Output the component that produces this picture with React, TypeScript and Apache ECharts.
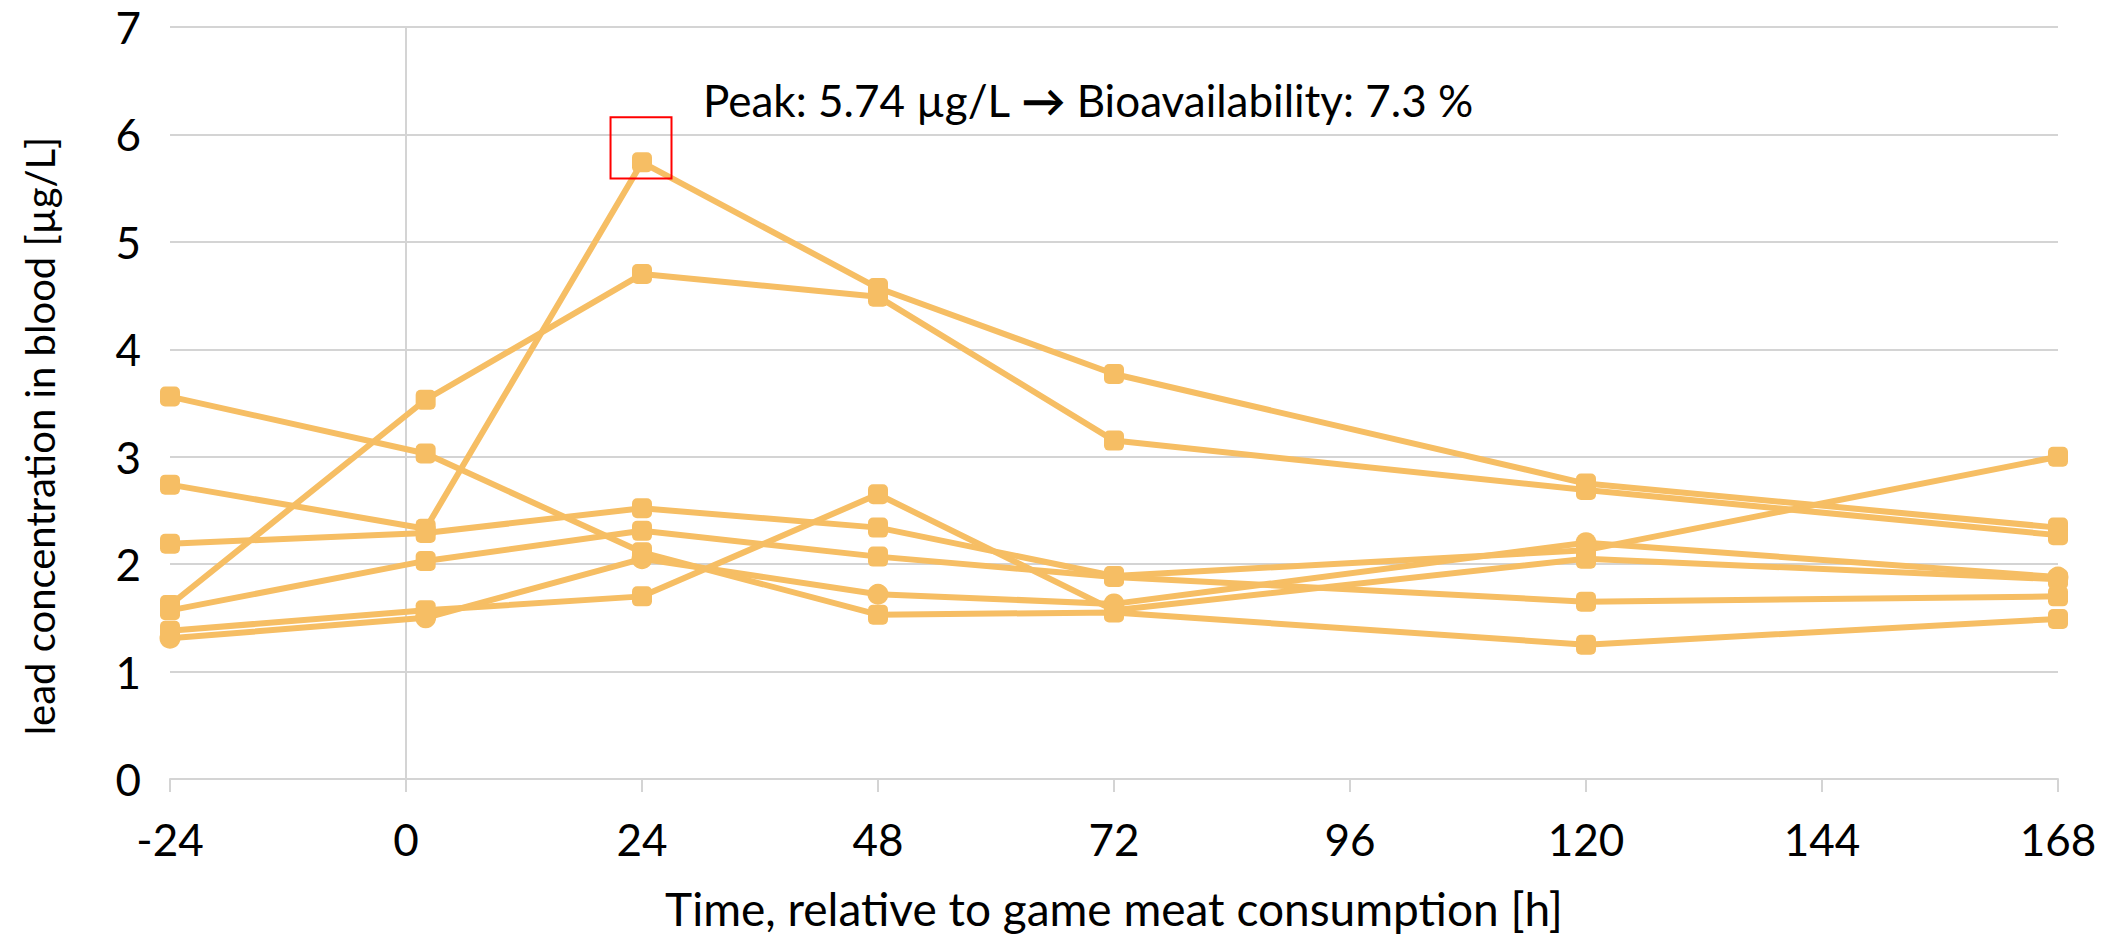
import React, { useEffect, useRef } from "react";
import * as echarts from "echarts";

// Time points (h, relative to game meat consumption)
const hours = [-24, 2, 24, 48, 72, 120, 168];

// Lead concentration in blood [µg/L], one array per subject
const subjectA = [3.56, 3.03, 2.11, 1.53, 1.55, 1.25, 1.49];
const subjectB = [2.74, 2.33, 5.74, 4.57, 3.77, 2.75, 2.34];
const subjectC = [2.19, 2.29, 2.52, 2.34, 1.89, 2.13, 3.0];
const subjectD = [1.62, 3.53, 4.7, 4.49, 3.15, 2.69, 2.27];
const subjectE = [1.57, 2.03, 2.31, 2.07, 1.88, 1.65, 1.7];
const subjectF = [1.38, 1.57, 1.7, 2.65, 1.57, 2.05, 1.86];
const subjectG = [1.31, 1.5, 2.05, 1.72, 1.63, 2.2, 1.88];

const subjectNames = ["G", "A", "B", "C", "D", "E", "F"];
const subjectValues = [subjectG, subjectA, subjectB, subjectC, subjectD, subjectE, subjectF];
const subjectSymbols = ["circle", "roundRect", "roundRect", "roundRect", "roundRect", "roundRect", "roundRect"];

// Peak highlight box (data coordinates) and annotation
const peakBoxHours = [20.8, 27.0];
const peakBoxValues = [5.59, 6.16];
const peakSubject = "B";
const annotationPre = "Peak: 5.74 µg/L ";
const annotationArrow = "\u2192";
const annotationPost = " Bioavailability: 7.3 %";

const xTitle = "Time, relative to game meat consumption [h]";
const yTitle = "lead concentration in blood [µg/L]";

const LINE_COLOR = "#F6BE64";
const GRID_COLOR = "#D4D4D4";
const FONT = "Lato";

export default function App() {
  const ref = useRef<HTMLDivElement>(null);

  useEffect(() => {
    if (!ref.current) return;
    const chart = echarts.init(ref.current, undefined, { renderer: "svg" });

    const series: any[] = subjectNames.map((name, i) => {
      const s: any = {
        name,
        type: "line",
        xAxisIndex: 0,
        yAxisIndex: 0,
        data: hours.map((h, j) => [h, subjectValues[i][j]]),
        symbol: subjectSymbols[i],
        symbolSize: subjectSymbols[i] === "circle" ? 21 : 20,
        showSymbol: true,
        lineStyle: { color: LINE_COLOR, width: 6 },
        itemStyle: { color: LINE_COLOR, borderWidth: 0 },
        emphasis: { disabled: true },
        silent: true,
        z: 3,
      };
      if (name === peakSubject) {
        s.markArea = {
          silent: true,
          itemStyle: { color: "rgba(0,0,0,0)", borderColor: "#FF0000", borderWidth: 2 },
          data: [
            [
              { coord: [peakBoxHours[0], peakBoxValues[1]] },
              { coord: [peakBoxHours[1], peakBoxValues[0]] },
            ],
          ],
          z: 10,
        };
      }
      return s;
    });

    chart.setOption({
      animation: false,
      backgroundColor: "#FFFFFF",
      grid: { left: 170, right: 53, top: 27, bottom: 154, containLabel: false },
      xAxis: {
        type: "value",
        min: -24,
        max: 168,
        interval: 24,
        name: xTitle,
        nameLocation: "middle",
        nameGap: 106,
        nameTextStyle: { fontFamily: FONT, fontSize: 46, color: "#000" },
        axisLine: { show: true, onZero: false, lineStyle: { color: GRID_COLOR, width: 2 } },
        axisTick: { show: true, length: 13, lineStyle: { color: GRID_COLOR, width: 2 } },
        axisLabel: { fontFamily: FONT, fontSize: 44, color: "#000", margin: 38 },
        splitLine: { show: false },
      },
      yAxis: [
        {
          type: "value",
          min: 0,
          max: 7,
          interval: 1,
          position: "left",
          axisLine: { show: false, onZero: false },
          axisTick: { show: false },
          axisLabel: { fontFamily: FONT, fontSize: 44, color: "#000", margin: 29 },
          splitLine: { show: true, lineStyle: { color: GRID_COLOR, width: 2 } },
        },
        {
          type: "value",
          min: 0,
          max: 7,
          interval: 1,
          position: "left",
          axisLine: { show: true, onZero: true, lineStyle: { color: GRID_COLOR, width: 2 } },
          axisTick: { show: true, length: 13, lineStyle: { color: GRID_COLOR, width: 2 } },
          axisLabel: { show: false },
          splitLine: { show: false },
        },
      ],
      graphic: [
        {
          type: "text",
          left: 703,
          top: 78,
          silent: true,
          style: {
            text: `{t|${annotationPre}}{a|${annotationArrow}}{t|${annotationPost}}`,
            rich: {
              t: { fontFamily: FONT, fontSize: 44, fill: "#000", color: "#000" },
              a: { fontFamily: FONT, fontSize: 44, fontWeight: "bold", fill: "#000", color: "#000" },
            },
            fontFamily: FONT,
            fontSize: 44,
            fill: "#000",
          },
        },
        {
          type: "text",
          x: 40,
          y: 436,
          rotation: Math.PI / 2,
          silent: true,
          style: {
            text: yTitle,
            fontFamily: FONT,
            fontSize: 40,
            fill: "#000",
            align: "center",
            verticalAlign: "middle",
          },
        },
      ],
      series,
    });

    return () => chart.dispose();
  }, []);

  return (
    <div
      ref={ref}
      style={{ position: "fixed", left: 0, top: 0, width: 2111, height: 936, background: "#fff" }}
    />
  );
}
